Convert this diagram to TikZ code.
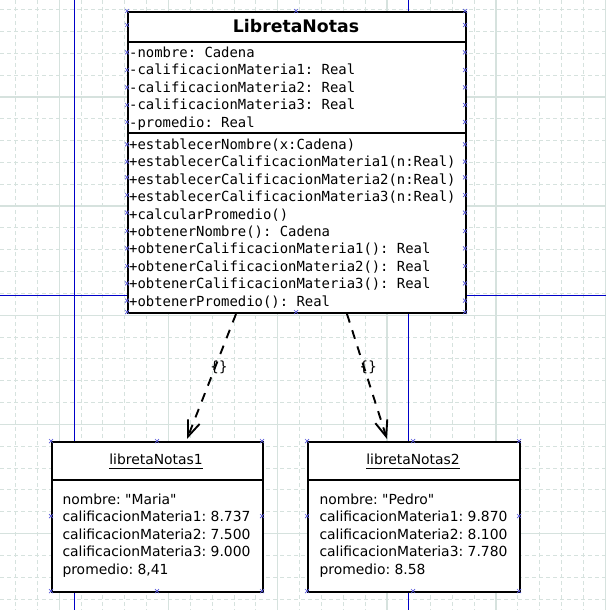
\documentclass[tikz,border=0pt]{standalone}
\usepackage{fontspec}
\setmainfont{DejaVu Sans}
\newfontfamily\monof{DejaVu Sans Mono}
\newfontfamily\plainsans{DejaVu Sans}
\usetikzlibrary{arrows.meta,calc}
\definecolor{gridc}{RGB}{214,226,222}
\definecolor{guide}{RGB}{0,0,200}
\definecolor{handlec}{RGB}{90,90,220}
\tikzset{
  minorgrid/.style={gridc, line width=1pt, dash pattern=on 4pt off 3pt},
  majorgrid/.style={gridc, line width=1.3pt},
  guideline/.style={guide, line width=1pt},
  umlbox/.style={draw=black, fill=white, line width=2pt, inner sep=0pt, anchor=north west},
  sepline/.style={black, line width=2pt},
  monotxt/.style={font=\monof\frenchspacing\fontsize{13.9}{17.45}\selectfont, inner sep=0pt, anchor=base west},
  sanstxt/.style={font=\plainsans\frenchspacing\fontsize{13.9}{17.45}\selectfont, inner sep=0pt, anchor=base west},
  dep/.style={black, line width=1.9pt, dash pattern=on 9pt off 8pt, -{Straight Barb[length=16pt,width=12.5pt,line width=1.9pt]}},
  lbl/.style={font=\fontsize{14}{16}\selectfont, inner sep=1pt},
  handle/.style={handlec, line width=0.7pt}
}
\begin{document}
\begin{tikzpicture}[x=1pt,y=-1pt]
\useasboundingbox (0,0) rectangle (606,610);
\fill[white] (0,0) rectangle (606,610);
% grid
\foreach \k in {0,...,27} {
  \draw[minorgrid] ({15.6+21.84*\k},0) -- ({15.6+21.84*\k},610);
  \draw[minorgrid] (0,{9.5+21.84*\k}) -- (606,{9.5+21.84*\k});
}
\foreach \k in {0,...,5} {
  \draw[majorgrid] ({59.3+109.2*\k},0) -- ({59.3+109.2*\k},610);
}
\foreach \k in {0,...,4} {
  \draw[majorgrid] (0,{96.9+109.2*\k}) -- (606,{96.9+109.2*\k});
}
% guides
\draw[guideline] (74.5,0) -- (74.5,610);
\draw[guideline] (408.5,0) -- (408.5,610);
\draw[guideline] (0,295.5) -- (606,295.5);

% class box
\node[umlbox, minimum width=338pt, minimum height=301pt] (cls) at (127,11) {};
\draw[sepline] (cls.west |- 0,42) -- (cls.east |- 0,42);
\draw[sepline] (cls.west |- 0,133) -- (cls.east |- 0,133);
\node[font=\bfseries\fontsize{17.3}{20}\selectfont, inner sep=0pt, anchor=base] (ttl) at (296,33) {LibretaNotas};
\foreach \t [count=\i] in {-nombre: Cadena,-calificacionMateria1: Real,-calificacionMateria2: Real,-calificacionMateria3: Real,-promedio: Real}
  \node[monotxt] (at\i) at (129,{57.3+17.45*(\i-1)}) {\t};
\foreach \t [count=\i] in {+establecerNombre(x:Cadena),+establecerCalificacionMateria1(n:Real),+establecerCalificacionMateria2(n:Real),+establecerCalificacionMateria3(n:Real),+calcularPromedio(),+obtenerNombre(): Cadena,+obtenerCalificacionMateria1(): Real,+obtenerCalificacionMateria2(): Real,+obtenerCalificacionMateria3(): Real,+obtenerPromedio(): Real}
  \node[monotxt] (mt\i) at (129,{149.5+17.4*(\i-1)}) {\t};

% object boxes
\node[umlbox, minimum width=211pt, minimum height=150pt] (obj1) at (51,441) {};
\node[umlbox, minimum width=212pt, minimum height=150pt] (obj2) at (307,441) {};
\draw[sepline] (obj1.west |- 0,480) -- (obj1.east |- 0,480);
\draw[sepline] (obj2.west |- 0,480) -- (obj2.east |- 0,480);
\node[sanstxt, anchor=base] (o1t) at (156,464.5) {libretaNotas1};
\node[sanstxt, anchor=base] (o2t) at (413,464.5) {libretaNotas2};
\draw[black, line width=1pt] ([yshift=-4pt]o1t.base west) -- ([yshift=-4pt]o1t.base east);
\draw[black, line width=1pt] ([yshift=-4pt]o2t.base west) -- ([yshift=-4pt]o2t.base east);
\foreach \t [count=\i] in {nombre: "Maria",calificacionMateria1: 8.737,calificacionMateria2: 7.500,calificacionMateria3: 9.000,{promedio: 8,41}}
  \node[sanstxt] (oa\i) at (62.3,{504+17.5*(\i-1)}) {\t};
\foreach \t [count=\i] in {nombre: "Pedro",calificacionMateria1: 9.870,calificacionMateria2: 8.100,calificacionMateria3: 7.780,promedio: 8.58}
  \node[sanstxt] (ob\i) at (319.3,{504+17.5*(\i-1)}) {\t};

% dependencies
\draw[dep] ([xshift=109pt]cls.south west) -- node[lbl, pos=0.43, xshift=4pt] (l1) {\{\}} ([xshift=136pt,yshift=2pt]obj1.north west);
\draw[dep] ([xshift=220pt]cls.south west) -- node[lbl, pos=0.43, xshift=4pt] (l2) {\{\}} ([xshift=80pt,yshift=2pt]obj2.north west);

% handles
\foreach \y in {11,25,52.3,70,87.3,105,122,144.3,161.7,177.3,195,212.7,231,248.3,266,283.3,300.7,312} {
  \draw[handle] (127,\y) +(-2,-2) -- +(2,2) +(-2,2) -- +(2,-2);
  \draw[handle] (465,\y) +(-2,-2) -- +(2,2) +(-2,2) -- +(2,-2);
}
\foreach \p in {(296,11),(296,312),(51,441),(157,441),(262,441),(51,516),(262,516),(51,591),(157,591),(262,591),(307,441),(413,441),(519,441),(307,516),(519,516),(307,591),(413,591),(519,591)}
  \draw[handle] \p +(-2,-2) -- +(2,2) +(-2,2) -- +(2,-2);
\end{tikzpicture}
\end{document}
